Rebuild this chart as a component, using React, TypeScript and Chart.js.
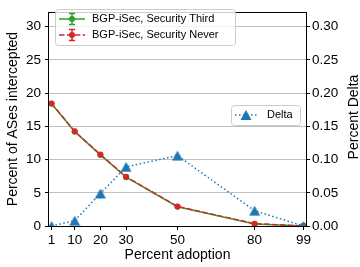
import React, { useEffect, useRef } from "react";
import { Chart, registerables } from "chart.js";

Chart.register(...registerables);

// ---- data ----
const adoption = [1, 10, 20, 30, 50, 80, 99];
const securityThird = [18.4, 14.2, 10.7, 7.35, 2.9, 0.3, 0.0];
const securityNever = [18.45, 14.25, 10.75, 7.4, 2.95, 0.35, 0.02];
const delta = [0.0, 0.008, 0.049, 0.089, 0.106, 0.023, 0.0];
const xTickValues = [1, 10, 20, 30, 50, 80, 99];
const leftTickValues = [0, 5, 10, 15, 20, 25, 30];
const rightTickValues = [0, 0.05, 0.1, 0.15, 0.2, 0.25, 0.3];
const labelThird = "BGP-iSec, Security Third";
const labelNever = "BGP-iSec, Security Never";
const labelDelta = "Delta";

const FONT = '"Liberation Sans", Arial, sans-serif';
const GREEN = "#2ca02c";
const RED = "#d62728";
const BLUE = "#1f77b4";

function roundRect(ctx: CanvasRenderingContext2D, x: number, y: number, w: number, h: number, r: number) {
  ctx.beginPath();
  ctx.moveTo(x + r, y);
  ctx.lineTo(x + w - r, y);
  ctx.arcTo(x + w, y, x + w, y + r, r);
  ctx.lineTo(x + w, y + h - r);
  ctx.arcTo(x + w, y + h, x + w - r, y + h, r);
  ctx.lineTo(x + r, y + h);
  ctx.arcTo(x, y + h, x, y + h - r, r);
  ctx.lineTo(x, y + r);
  ctx.arcTo(x, y, x + r, y, r);
  ctx.closePath();
}

// matplotlib-like '^' marker: centred on its bounding box
function drawTriangle(ctx: CanvasRenderingContext2D, cx: number, cy: number, w: number, h: number, color: string) {
  ctx.beginPath();
  ctx.moveTo(cx, cy - h / 2);
  ctx.lineTo(cx + w / 2, cy + h / 2);
  ctx.lineTo(cx - w / 2, cy + h / 2);
  ctx.closePath();
  ctx.fillStyle = color;
  ctx.fill();
}

function makeTriangleImage(color: string) {
  const c = document.createElement("canvas");
  c.width = 12;
  c.height = 11;
  const g = c.getContext("2d");
  if (g) drawTriangle(g, 6, 5.5, 11, 10, color);
  return c;
}

const framePlugin = {
  id: "frame",
  beforeDatasetsDraw(chart: any) {
    const { ctx, chartArea: a } = chart;
    ctx.save();
    ctx.strokeStyle = "#000";
    ctx.lineWidth = 1;
    const l = Math.round(a.left) - 0.5;
    const t = Math.round(a.top) + 0.5;
    const r = Math.round(a.right) + 0.5;
    const b = Math.round(a.bottom) + 0.5;
    ctx.strokeRect(l, t, r - l, b - t);
    ctx.restore();
  },
  afterDraw(chart: any) {
    const { ctx } = chart;
    ctx.save();
    // Right axis title
    ctx.translate(354, 117);
    ctx.rotate(-Math.PI / 2);
    ctx.fillStyle = "#000";
    ctx.font = `14px ${FONT}`;
    ctx.textAlign = "center";
    ctx.textBaseline = "middle";
    ctx.fillText("Percent Delta", 0, 0);
    ctx.restore();

    // Legend 1
    ctx.save();
    roundRect(ctx, 55.5, 9.5, 180, 36, 3);
    ctx.fillStyle = "rgba(255,255,255,0.8)";
    ctx.fill();
    ctx.strokeStyle = "#cccccc";
    ctx.lineWidth = 1;
    ctx.stroke();
    const rows = [
      { y: 19, color: GREEN, dash: [] as number[], label: labelThird },
      { y: 35, color: RED, dash: [5.5, 2.4], label: labelNever },
    ];
    for (const row of rows) {
      ctx.strokeStyle = row.color;
      ctx.lineWidth = 1.5;
      ctx.setLineDash(row.dash);
      ctx.beginPath();
      ctx.moveTo(59, row.y);
      ctx.lineTo(85, row.y);
      ctx.stroke();
      ctx.setLineDash([]);
      // error bar
      ctx.beginPath();
      ctx.moveTo(72, row.y - 5.5);
      ctx.lineTo(72, row.y + 5.5);
      ctx.moveTo(69, row.y - 5.5);
      ctx.lineTo(75, row.y - 5.5);
      ctx.moveTo(69, row.y + 5.5);
      ctx.lineTo(75, row.y + 5.5);
      ctx.stroke();
      ctx.beginPath();
      ctx.arc(72, row.y, 3, 0, Math.PI * 2);
      ctx.fillStyle = row.color;
      ctx.fill();
      ctx.fillStyle = "#000";
      ctx.font = `11px ${FONT}`;
      ctx.textAlign = "left";
      ctx.textBaseline = "middle";
      ctx.fillText(row.label, 92, row.y);
    }

    // Legend 2
    roundRect(ctx, 231.5, 105.5, 69, 20, 3);
    ctx.fillStyle = "rgba(255,255,255,0.8)";
    ctx.fill();
    ctx.strokeStyle = "#cccccc";
    ctx.lineWidth = 1;
    ctx.stroke();
    ctx.strokeStyle = BLUE;
    ctx.lineWidth = 1.5;
    ctx.setLineDash([1.5, 2.5]);
    ctx.beginPath();
    ctx.moveTo(235, 115);
    ctx.lineTo(257, 115);
    ctx.stroke();
    ctx.setLineDash([]);
    drawTriangle(ctx, 246, 115, 11, 10, BLUE);
    ctx.fillStyle = "#000";
    ctx.font = `11px ${FONT}`;
    ctx.textAlign = "left";
    ctx.textBaseline = "middle";
    ctx.fillText(labelDelta, 267, 115);
    ctx.restore();
  },
};

export default function App() {
  const ref = useRef<HTMLCanvasElement | null>(null);

  useEffect(() => {
    document.body.style.margin = "0";
    const canvas = ref.current;
    if (!canvas) return;
    const tickFont = { family: FONT, size: 13.5 };
    const titleFont = { family: FONT, size: 14 };
    const triangleImg = makeTriangleImage(BLUE);
    const chart = new Chart(canvas, {
      type: "line",
      data: {
        datasets: [
          {
            label: labelDelta,
            data: adoption.map((x, i) => ({ x, y: delta[i] })),
            yAxisID: "y1",
            borderColor: BLUE,
            backgroundColor: BLUE,
            borderWidth: 1.5,
            borderDash: [1.5, 2.5],
            pointStyle: triangleImg,
            pointRadius: 6,
            pointBorderWidth: 0,
            pointBackgroundColor: BLUE,
            tension: 0,
          },
          {
            label: labelNever,
            data: adoption.map((x, i) => ({ x, y: securityNever[i] })),
            yAxisID: "y",
            borderColor: RED,
            backgroundColor: RED,
            borderWidth: 1.5,
            borderDash: [5.5, 2.4],
            pointStyle: "circle",
            pointRadius: 3,
            pointBorderWidth: 0,
            pointBackgroundColor: RED,
            tension: 0,
          },
          {
            label: labelThird,
            data: adoption.map((x, i) => ({ x, y: securityThird[i] })),
            yAxisID: "y",
            borderColor: GREEN,
            backgroundColor: GREEN,
            borderWidth: 1.5,
            pointStyle: "circle",
            pointRadius: 3,
            pointBorderWidth: 0,
            pointBackgroundColor: GREEN,
            tension: 0,
          },
        ],
      },
      options: {
        responsive: false,
        animation: false,
        layout: { padding: { top: 4, left: 0, right: 0, bottom: 0 } },
        plugins: { legend: { display: false }, tooltip: { enabled: false } },
        scales: {
          x: {
            type: "linear",
            position: "bottom",
            min: 0,
            max: 100,
            afterBuildTicks: (s: any) => {
              s.ticks = xTickValues.map((v) => ({ value: v }));
            },
            afterFit: (s: any) => {
              s.height = 41;
            },
            grid: { drawOnChartArea: false, drawTicks: true, tickLength: 4, tickColor: "#000", tickWidth: 1 },
            border: { display: false },
            ticks: {
              color: "#000",
              font: tickFont,
              padding: 2,
              autoSkip: false,
              maxRotation: 0,
              callback: (v: any) => String(v),
            },
            title: {
              display: true,
              text: "Percent adoption",
              color: "#000",
              font: titleFont,
              padding: { top: 0, bottom: 3 },
            },
          },
          y: {
            type: "linear",
            position: "left",
            min: 0,
            max: 32.2,
            afterBuildTicks: (s: any) => {
              s.ticks = leftTickValues.map((v) => ({ value: v }));
            },
            afterFit: (s: any) => {
              s.width = 49;
            },
            grid: { color: "#b0b0b0", lineWidth: 0.8, drawTicks: true, tickLength: 4, tickColor: "#000", tickWidth: 1 },
            border: { display: false },
            ticks: { color: "#000", font: tickFont, padding: 4, callback: (v: any) => String(v) },
            title: {
              display: true,
              text: "Percent of ASes intercepted",
              color: "#000",
              font: titleFont,
              padding: { top: 5, bottom: 0 },
            },
          },
          y1: {
            type: "linear",
            position: "right",
            min: 0,
            max: 0.322,
            afterBuildTicks: (s: any) => {
              s.ticks = rightTickValues.map((v) => ({ value: v }));
            },
            afterFit: (s: any) => {
              s.width = 54;
            },
            grid: { drawOnChartArea: false, drawTicks: true, tickLength: 4, tickColor: "#000", tickWidth: 1 },
            border: { display: false },
            ticks: { color: "#000", font: tickFont, padding: 2, callback: (v: any) => Number(v).toFixed(2) },
          },
        },
      },
      plugins: [framePlugin],
    } as any);
    return () => chart.destroy();
  }, []);

  return <canvas ref={ref} width={360} height={267} style={{ display: "block" }} />;
}
